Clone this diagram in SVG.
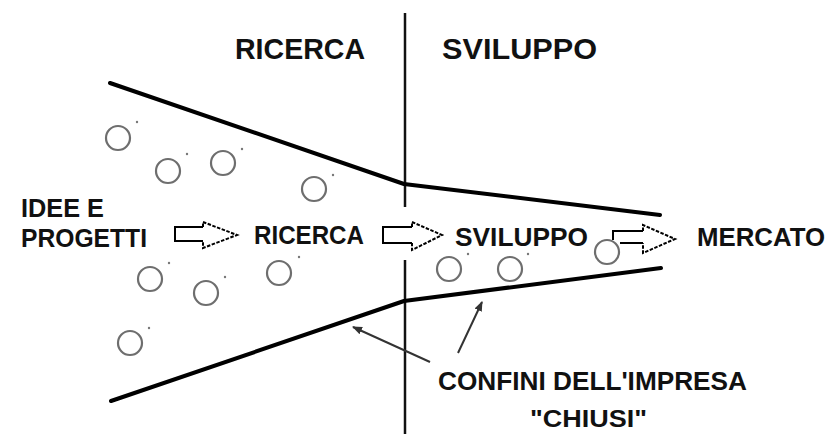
<svg xmlns="http://www.w3.org/2000/svg" width="832" height="434" viewBox="0 0 832 434">
<style>
text{font-family:"Liberation Sans",Arial,sans-serif;font-weight:bold;fill:#111;}
.t{font-size:30px;}
.s{font-size:26px;}
.bound{fill:none;stroke:#000;stroke-width:4;stroke-linecap:round;stroke-linejoin:round;}
.bub{fill:#fff;stroke:#6e6e6e;stroke-width:2.2;}
.dot{fill:#777;}
.shaft{fill:#fff;stroke:#000;stroke-width:2;}
.head{fill:none;stroke:#000;stroke-width:2;stroke-dasharray:3.5 1.5;}
.ptr{stroke:#333;stroke-width:2;fill:none;}
</style>
<defs>
<marker id="ah" viewBox="0 0 10 10" refX="9" refY="5" markerWidth="5" markerHeight="5" orient="auto">
<path d="M0,1 L10,5 L0,9 z" fill="#333"/>
</marker>
</defs>
<rect width="832" height="434" fill="#fff"/>

<g id="divider">
<line x1="405" y1="13" x2="405" y2="207" stroke="#111" stroke-width="2.5"/>
<line x1="405" y1="260" x2="405" y2="434" stroke="#111" stroke-width="2.5"/>
</g>

<g id="boundaries">
<polyline class="bound" points="110,83 404,184 660,215"/>
<polyline class="bound" points="111,401 404,301 661,268"/>
</g>

<g id="headers">
<text class="t" x="235" y="59" textLength="130" lengthAdjust="spacingAndGlyphs">RICERCA</text>
<text class="t" x="442" y="59" textLength="155" lengthAdjust="spacingAndGlyphs">SVILUPPO</text>
</g>

<g id="bubbles">
<circle class="bub" cx="118" cy="138" r="12"/><circle class="dot" cx="137" cy="122" r="1.2"/>
<circle class="bub" cx="168" cy="171" r="12"/><circle class="dot" cx="187" cy="154" r="1.2"/>
<circle class="bub" cx="223" cy="163" r="12"/><circle class="dot" cx="242" cy="149" r="1.2"/>
<circle class="bub" cx="314" cy="189" r="12"/><circle class="dot" cx="333" cy="175" r="1.2"/>
<circle class="bub" cx="150" cy="279" r="12"/><circle class="dot" cx="169" cy="263" r="1.2"/>
<circle class="bub" cx="206" cy="293" r="12"/><circle class="dot" cx="225" cy="277" r="1.2"/>
<circle class="bub" cx="279" cy="273" r="12"/><circle class="dot" cx="299" cy="257" r="1.2"/>
<circle class="bub" cx="130" cy="343" r="12"/><circle class="dot" cx="149" cy="328" r="1.2"/>
<circle class="bub" cx="449" cy="269" r="12"/><circle class="dot" cx="468" cy="254" r="1.2"/>
<circle class="bub" cx="510" cy="269" r="12"/><circle class="dot" cx="528" cy="254" r="1.2"/>
</g>

<g id="idee">
<text class="s" x="21" y="217" textLength="83" lengthAdjust="spacingAndGlyphs">IDEE E</text>
<text class="s" x="21" y="247" textLength="126" lengthAdjust="spacingAndGlyphs">PROGETTI</text>
</g>
<g id="ricerca">
<text class="s" x="254" y="244" textLength="110" lengthAdjust="spacingAndGlyphs">RICERCA</text>
</g>
<g id="sviluppo">
<text class="s" x="455" y="246" textLength="133" lengthAdjust="spacingAndGlyphs">SVILUPPO</text>
</g>
<g id="mercato">
<text class="s" x="697" y="246" textLength="128" lengthAdjust="spacingAndGlyphs">MERCATO</text>
</g>
<g id="confini">
<text class="s" x="438" y="390" textLength="309" lengthAdjust="spacingAndGlyphs">CONFINI DELL'IMPRESA</text>
<text x="530" y="427" font-size="24" textLength="117" lengthAdjust="spacingAndGlyphs">"CHIUSI"</text>
</g>

<g id="connectors">
<path class="shaft" d="M203,227 H175 V241 H203"/>
<path class="head" d="M203,227 V222 L237,235 L203,248 V241"/>
<path class="shaft" d="M412,227 H383 V243 H412"/>
<path class="head" d="M412,227 V222 L442,235 L412,250 V243"/>
<path class="shaft" d="M643,231 H613 V240 M620,243 H643"/>
<path class="head" d="M643,231 V225 L675,239 L643,253 V243"/>
<line class="ptr" x1="430" y1="362" x2="353" y2="327" marker-end="url(#ah)"/>
<line class="ptr" x1="458" y1="353" x2="482" y2="302" marker-end="url(#ah)"/>
</g>
<g id="bubble-last">
<circle class="bub" cx="607" cy="252" r="12"/>
</g>
</svg>
